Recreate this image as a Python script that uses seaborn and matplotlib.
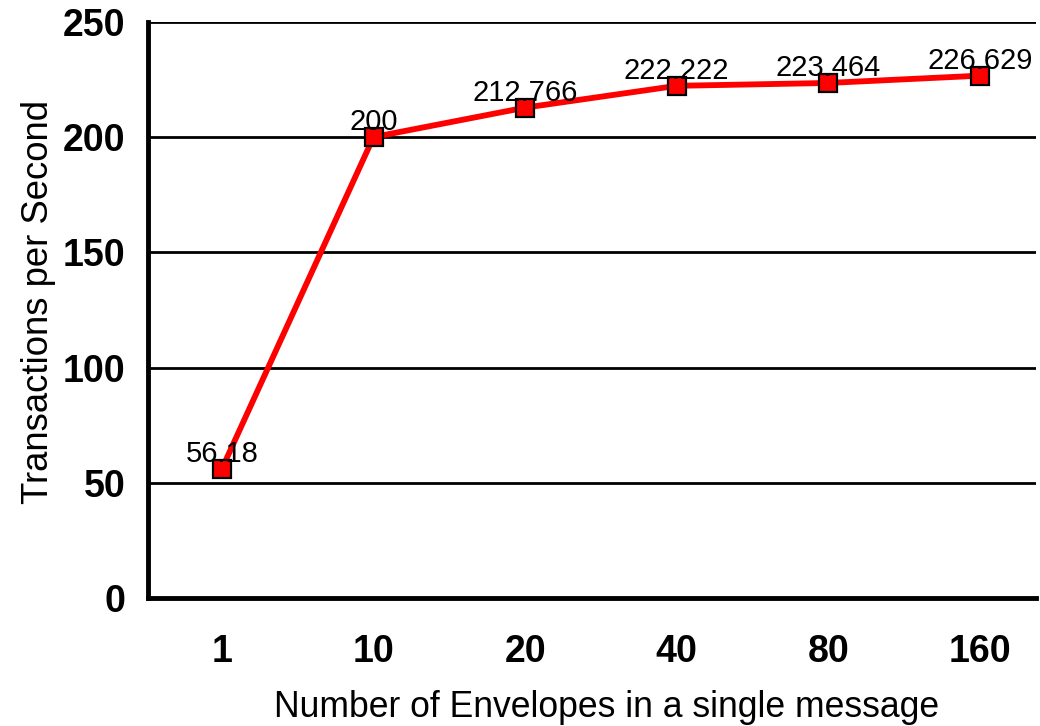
import matplotlib
matplotlib.use("Agg")
import matplotlib.pyplot as plt
import seaborn as sns
import pandas as pd

categories = ["1", "10", "20", "40", "80", "160"]
tps = [56.18, 200, 212.766, 222.222, 223.464, 226.629]
point_labels = ["56.18", "200", "212.766", "222.222", "223.464", "226.629"]
y_ticks = [0, 50, 100, 150, 200, 250]

sns.set_theme(style="white")
plt.rcParams['font.family'] = ['Liberation Sans', 'DejaVu Sans']
plt.rcParams['text.color'] = 'black'
plt.rcParams['axes.labelcolor'] = 'black'
plt.rcParams['xtick.color'] = 'black'
plt.rcParams['ytick.color'] = 'black'

df = pd.DataFrame({"pos": list(range(len(categories))), "tps": tps})

fig = plt.figure(figsize=(10.4, 7.26), dpi=100)
ax = fig.add_axes([0.142, 0.176, 0.854, 0.794])

sns.lineplot(data=df, x="pos", y="tps", ax=ax, color="#ff0000", linewidth=4.2,
             marker="s", markersize=13, markerfacecolor="#ff0000",
             markeredgecolor="black", markeredgewidth=1.6, zorder=3)

for xi, yi, lab in zip(df["pos"], tps, point_labels):
    ax.annotate(lab, (xi, yi), xytext=(0, 5), textcoords="offset points",
                ha="center", va="baseline", fontsize=21, color="black", zorder=4)

ax.set_ylim(0, 250)
ax.set_xlim(-0.49, 5.37)
ax.set_yticks(y_ticks)
ax.set_xticks(list(range(len(categories))))
ax.set_xticklabels(categories)
ax.yaxis.grid(True, color="black", linewidth=2.0)
ax.set_axisbelow(True)

for s in ["top", "right"]:
    ax.spines[s].set_visible(False)
for s in ["left", "bottom"]:
    ax.spines[s].set_color("black")
    ax.spines[s].set_linewidth(3.5)

ax.tick_params(axis="both", length=0, labelsize=27, colors="black")
ax.tick_params(axis="y", pad=16)
ax.tick_params(axis="x", pad=26)
for t in ax.get_xticklabels() + ax.get_yticklabels():
    t.set_fontweight("bold")

ax.set_xlabel("Number of Envelopes in a single message", fontsize=25.6, labelpad=14, color="black")
ax.set_ylabel("Transactions per Second", fontsize=26.3, labelpad=5, color="black")
ax.xaxis.label.set_x(0.517)
ax.yaxis.label.set_y(0.514)

fig.savefig("out.png", dpi=100, facecolor="white")
